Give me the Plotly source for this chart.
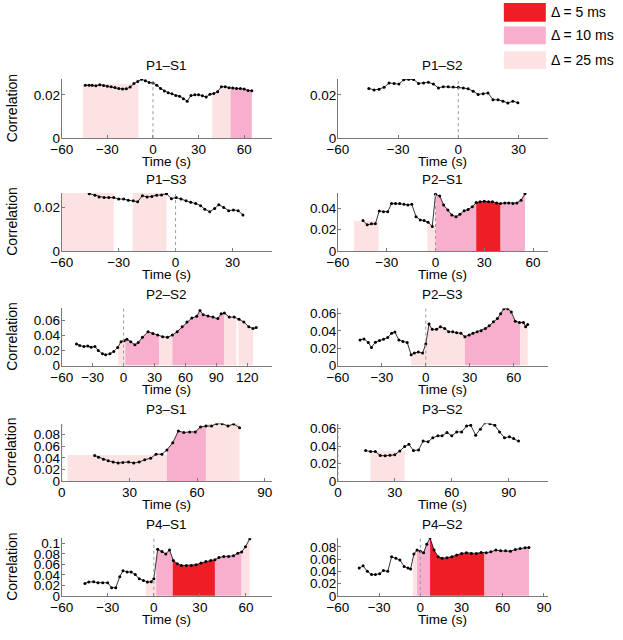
import plotly.graph_objects as go
import numpy as np

W, H = 623, 640
FONT = "Liberation Sans, Arial, Helvetica, sans-serif"

# ---------------- data ----------------
titles = ["P1\u2013S1", "P1\u2013S2", "P1\u2013S3", "P2\u2013S1", "P2\u2013S2",
          "P2\u2013S3", "P3\u2013S1", "P3\u2013S2", "P4\u2013S1", "P4\u2013S2"]

p1s1_t = [-44.5, -42, -40, -37.5, -35, -32.5, -30, -27.5, -25, -22.5, -20, -17.5, -15, -12.5,
          -10, -7.5, -5, -2.5, 0, 2.5, 5, 7.5, 10, 12.5, 15, 17.5, 20, 22.5, 25, 27.5, 30, 32.5,
          35, 37.5, 40, 42.5, 45, 47.5, 50, 52.5, 55, 57.5, 60, 62.5, 65]
p1s1_v = [0.0245, 0.0244, 0.0244, 0.0242, 0.0247, 0.0243, 0.0240, 0.0238, 0.0234, 0.0229,
          0.0227, 0.0228, 0.0236, 0.0252, 0.0262, 0.0272, 0.0265, 0.0257, 0.0255, 0.0245,
          0.0230, 0.0218, 0.0210, 0.0205, 0.0197, 0.0194, 0.0182, 0.0171, 0.0197, 0.0200,
          0.0201, 0.0196, 0.0190, 0.0203, 0.0206, 0.0215, 0.0238, 0.0238, 0.0233, 0.0232,
          0.0230, 0.0229, 0.0227, 0.0220, 0.0219]

p1s2_t = [-44.6, -42, -39.5, -37, -34.5, -32, -29.6, -27.2, -24.7, -22.3, -19.8, -17.3, -14.9,
          -12.4, -9.9, -7.5, -5, -2.5, 0, 2.5, 4.9, 7.4, 9.9, 12.4, 14.8, 17.3, 19.8, 22.3,
          24.7, 27.2, 29.7]
p1s2_v = [0.0230, 0.0223, 0.0226, 0.0235, 0.0255, 0.0253, 0.0250, 0.0270, 0.0272, 0.0271,
          0.0253, 0.0255, 0.0258, 0.0250, 0.0232, 0.0238, 0.0237, 0.0236, 0.0235, 0.0232,
          0.0228, 0.0217, 0.0202, 0.0205, 0.0209, 0.0178, 0.0177, 0.0171, 0.0162, 0.0171,
          0.0164]

p1s3_t = [-45.5, -42.5, -40.3, -37.7, -35.2, -32.6, -30, -27.4, -24.9, -22.3, -20, -17.5, -15,
          -12.5, -10, -7.4, -4.8, -2.2, 0.3, 2.9, 5.5, 8, 10.6, 13.2, 15.4, 18, 20.6, 22.8,
          25.4, 28, 30.5, 33, 35.5]
p1s3_v = [0.0263, 0.0256, 0.0248, 0.0245, 0.0245, 0.0245, 0.0238, 0.0238, 0.0233, 0.0230,
          0.0226, 0.0253, 0.0248, 0.0250, 0.0256, 0.0257, 0.0263, 0.0240, 0.0245, 0.0238,
          0.0230, 0.0223, 0.0218, 0.0208, 0.0192, 0.0180, 0.0195, 0.0212, 0.0200, 0.0185,
          0.0188, 0.0185, 0.0165]

p2s1_t = [-44.6, -42, -39.4, -37, -34.6, -32, -29.4, -27, -24.6, -22, -19.4, -17, -14.6, -12,
          -9.4, -7, -4.6, -2, 0, 2.6, 5, 7.6, 10, 12.6, 15, 17.6, 20, 22.6, 25, 27.4, 30, 32.6,
          35, 37.6, 40, 42.6, 45, 47.6, 50, 52.6, 55]
p2s1_v = [0.0286, 0.0246, 0.0255, 0.0255, 0.0375, 0.0369, 0.0369, 0.0446, 0.0446, 0.0446,
          0.0440, 0.0431, 0.0440, 0.0323, 0.0292, 0.0286, 0.0271, 0.0231, 0.0532, 0.0517,
          0.0431, 0.0385, 0.0338, 0.0323, 0.0345, 0.0378, 0.0390, 0.0415, 0.0455, 0.0462,
          0.0468, 0.0462, 0.0462, 0.0452, 0.0446, 0.0452, 0.0452, 0.0446, 0.0452, 0.0477,
          0.0538]

p2s2_t = [-45.7, -42.6, -38.5, -34.7, -31.5, -27.8, -24.6, -20.5, -17.4, -13.2, -9.5, -5.7,
          -2.5, 0.6, 3.2, 6.9, 11, 14.2, 18.3, 23.7, 28.4, 33.1, 37.9, 42.6, 47.3, 52, 56.8,
          61.5, 66.2, 71, 74.1, 77.3, 82, 86.8, 91.5, 94.7, 97.8, 102.5, 107.3, 112, 116.7,
          121.5, 125.6, 128.7]
p2s2_v = [0.0287, 0.0265, 0.0252, 0.0260, 0.0243, 0.0252, 0.0200, 0.0157, 0.0143, 0.0157,
          0.0187, 0.0239, 0.0317, 0.0330, 0.0348, 0.0317, 0.0274, 0.0304, 0.0374, 0.0448,
          0.0426, 0.0404, 0.0383, 0.0374, 0.0404, 0.0448, 0.0513, 0.0578, 0.0630, 0.0652,
          0.0730, 0.0674, 0.0657, 0.0643, 0.0622, 0.0687, 0.0696, 0.0643, 0.0643, 0.0613,
          0.0578, 0.0513, 0.0491, 0.0504]

p2s3_t = [-44.9, -42.2, -39.3, -37.1, -34.4, -31.6, -28.9, -26, -23.3, -21.1, -18.4, -15.6,
          -12.7, -10, -7.8, -5.1, -2.2, 0, 2.2, 4.4, 7.3, 10, 12.9, 15.6, 18.4, 21.1, 24, 26.7,
          29.6, 32.2, 35.1, 37.8, 40.7, 43.3, 46.2, 48.9, 51.1, 53.3, 56, 58.4, 61.1, 64,
          66.7, 68.2, 69.6]
p2s3_v = [0.0296, 0.0308, 0.0266, 0.0209, 0.0270, 0.0289, 0.0304, 0.0323, 0.0372, 0.0387,
          0.0296, 0.0277, 0.0266, 0.0125, 0.0144, 0.0156, 0.0144, 0.0250, 0.0479, 0.0418,
          0.0418, 0.0448, 0.0429, 0.0391, 0.0391, 0.0380, 0.0372, 0.0334, 0.0353, 0.0372,
          0.0391, 0.0403, 0.0429, 0.0460, 0.0505, 0.0543, 0.0600, 0.0657, 0.0657, 0.0619,
          0.0513, 0.0498, 0.0498, 0.0448, 0.0475]

p3s1_t = [14.6, 16.3, 18.5, 20.6, 22.8, 25, 27.1, 29.6, 31.9, 34.3, 36.8, 39.4, 41.8, 44.4,
          46.6, 49.2, 51.7, 54.1, 56.7, 59.2, 61.5, 63.9, 66.4, 68.7, 71.1, 73.7, 76.2, 78.8]
p3s1_v = [0.0440, 0.0411, 0.0377, 0.0349, 0.0327, 0.0310, 0.0321, 0.0327, 0.0310, 0.0327,
          0.0366, 0.0394, 0.0462, 0.0462, 0.0535, 0.0659, 0.0862, 0.0834, 0.0845, 0.0845,
          0.0930, 0.0946, 0.0946, 0.0986, 0.0986, 0.0946, 0.0980, 0.0918]

p3s2_t = [14.6, 17.2, 19.7, 22.3, 24.9, 27.4, 30, 32.6, 35.2, 37.4, 39.8, 42.5, 44.9, 47.5,
          50, 52.7, 54.9, 57.5, 60, 62.6, 65.2, 67.8, 70, 72.6, 75.1, 77.5, 80.1, 82.7, 85.2,
          87.8, 90.4, 92.6, 95.2]
p3s2_v = [0.0349, 0.0337, 0.0337, 0.0292, 0.0289, 0.0296, 0.0300, 0.0345, 0.0394, 0.0420,
          0.0349, 0.0356, 0.0457, 0.0450, 0.0495, 0.0517, 0.0517, 0.0555, 0.0517, 0.0562,
          0.0562, 0.0630, 0.0637, 0.0525, 0.0592, 0.0664, 0.0656, 0.0637, 0.0562, 0.0495,
          0.0506, 0.0487, 0.0457]

p4s1_t = [-44.9, -42.4, -39.2, -36.4, -33.3, -30.1, -27.5, -24.8, -22.2, -20.1, -17.4, -14.8,
          -12.1, -9.5, -6.8, -4.2, -1.7, 0, 2.5, 5.3, 7.8, 10.2, 12.7, 15.3, 18, 21.2, 24.4,
          27.5, 30.7, 33.9, 37.1, 39.8, 42.4, 45.6, 48.7, 51.9, 54.7, 57.2, 59.7, 62.5]
p4s1_v = [0.0238, 0.0263, 0.0269, 0.0250, 0.0250, 0.0250, 0.0156, 0.0156, 0.0363, 0.0481,
          0.0456, 0.0456, 0.0406, 0.0325, 0.0294, 0.0263, 0.0269, 0.0325, 0.0888, 0.0844,
          0.0800, 0.0875, 0.0675, 0.0613, 0.0581, 0.0581, 0.0581, 0.0594, 0.0625, 0.0656,
          0.0675, 0.0688, 0.0731, 0.0750, 0.0750, 0.0763, 0.0813, 0.0838, 0.0938, 0.1090]

p4s2_t = [-44.5, -41.7, -38.6, -35.5, -32.7, -29.6, -26.8, -23.7, -20.9, -17.8, -14.9, -11.8,
          -9, -7.1, -4.7, -2.4, 0, 2.4, 4.7, 7.1, 10, 13, 15.9, 19.4, 23, 26.5, 30.1, 33.6,
          37.2, 40.8, 44.3, 48, 51.4, 55, 58.5, 62.1, 65.6, 69.2, 72.7, 76.3, 79.1]
p4s2_v = [0.0453, 0.0490, 0.0400, 0.0347, 0.0347, 0.0363, 0.0416, 0.0400, 0.0640, 0.0613,
          0.0587, 0.0480, 0.0453, 0.0437, 0.0683, 0.0747, 0.0730, 0.0704, 0.0843, 0.0944,
          0.0747, 0.0640, 0.0613, 0.0624, 0.0640, 0.0667, 0.0693, 0.0704, 0.0693, 0.0693,
          0.0709, 0.0704, 0.0720, 0.0747, 0.0736, 0.0736, 0.0730, 0.0757, 0.0773, 0.0784,
          0.0789]

# significance windows: (start s, end s, delta ms, flat top or None = follow curve)
p1s1_win = [(-46, -9.6, 25, 0.0250), (39, 51, 25, None), (51, 65, 10, None)]
p1s2_win = []
p1s3_win = [(-60, -32.6, 25, 0.0266), (-22.6, -4.8, 25, 0.0266)]
p2s1_win = [(-50, -35, 25, 0.0283), (-5, 0, 25, 0.0250), (0, 25, 10, None),
            (25, 40, 5, None), (40, 55, 10, None)]
p2s2_win = [(-5.4, 1.6, 25, None), (1.6, 34.7, 10, None), (34.7, 47.3, 25, None),
            (47.3, 97.8, 10, None), (97.8, 109.5, 25, None), (111.4, 125.6, 25, None)]
p2s3_win = [(-10, 26.7, 25, None), (26.7, 64.4, 10, None), (64.4, 69.6, 25, None)]
p3s1_win = [(2.6, 46.6, 25, 0.0450), (46.6, 63.9, 10, None), (63.9, 78.8, 25, 0.0985)]
p3s2_win = [(17.1, 35.2, 25, 0.0340)]
p4s1_win = [(-5.3, 1.5, 25, 0.0300), (1.5, 12.3, 10, None), (12.3, 39.8, 5, None),
            (39.8, 57.2, 10, None), (57.2, 62.5, 25, None)]
p4s2_win = [(-5.5, -2.4, 25, None), (-2.4, 7.1, 10, None), (7.1, 46.7, 5, None),
            (46.7, 79.1, 10, None)]

x_ranges = [(-60, 78), (-60, 44.6), (-60, 50.6), (-60, 69), (-60, 143.6),
            (-60, 83.3), (0, 93), (0, 110.6), (-60, 76.7), (-60, 92.8)]
y_tops = [0.0273, 0.0273, 0.0266, 0.0545, 0.0757, 0.0660, 0.0989, 0.0658, 0.1097, 0.0940]

delta_levels = [5, 10, 25]
delta_labels = ["\u0394 = 5 ms", "\u0394 = 10 ms", "\u0394 = 25 ms"]
delta_colors = {5: "#EE1D26", 10: "#F8AFCE", 25: "#FDE2E3"}

panels = [
    (p1s1_t, p1s1_v, p1s1_win), (p1s2_t, p1s2_v, p1s2_win),
    (p1s3_t, p1s3_v, p1s3_win), (p2s1_t, p2s1_v, p2s1_win),
    (p2s2_t, p2s2_v, p2s2_win), (p2s3_t, p2s3_v, p2s3_win),
    (p3s1_t, p3s1_v, p3s1_win), (p3s2_t, p3s2_v, p3s2_win),
    (p4s1_t, p4s1_v, p4s1_win), (p4s2_t, p4s2_v, p4s2_win),
]

# ---------------- layout geometry (pixels) ----------------
cols_px = [(52, 267), (335, 550)]
rows_px = [(78.3, 138.3), (194, 253), (311.3, 369.3), (428.2, 486.7), (544.8, 603.3)]

def px_x(p):
    return p / W

def px_y(p):
    return 1 - p / H

fig = go.Figure()
layout = dict(width=W, height=H, margin=dict(l=0, r=0, t=0, b=0),
              plot_bgcolor="white", paper_bgcolor="white", showlegend=False,
              font=dict(family=FONT, size=13.5, color="black"))
annotations = []
shapes = []
AXC = "#7a7a7a"
TF = dict(family=FONT, size=13.5, color="black")

for i, (t, v, wins) in enumerate(panels):
    r, c = divmod(i, 2)
    xa = "x" if i == 0 else f"x{i+1}"
    ya = "y" if i == 0 else f"y{i+1}"
    xkey = "xaxis" if i == 0 else f"xaxis{i+1}"
    ykey = "yaxis" if i == 0 else f"yaxis{i+1}"
    x0p, x1p = cols_px[c]
    y0p, y1p = rows_px[r]
    ta = np.array(t, dtype=float)
    va = np.array(v, dtype=float)

    # shaded windows
    for (s0, s1, d, top) in wins:
        if top is None:
            inner = ta[(ta > s0) & (ta < s1)]
            xs = [s0] + list(inner) + [s1]
            ys = list(np.interp(xs, ta, va))
        else:
            xs = [s0, s1]
            ys = [top, top]
        px = xs + [s1, s0, s0]
        py = ys + [0, 0, ys[0]]
        fig.add_trace(go.Scatter(x=px, y=py, xaxis=xa, yaxis=ya, mode="lines",
                                 fill="toself", fillcolor=delta_colors[d],
                                 line=dict(width=0, color=delta_colors[d]),
                                 hoverinfo="skip"))
    # zero line
    shapes.append(dict(type="line", xref=xa, yref=ya, x0=0, x1=0, y0=0, y1=y_tops[i],
                       line=dict(color="#9a9a9a", width=1, dash="dot"), layer="above"))
    # data
    fig.add_trace(go.Scatter(x=t, y=v, xaxis=xa, yaxis=ya, mode="lines+markers",
                             line=dict(color="black", width=0.8),
                             marker=dict(color="black", size=3)))

    layout[xkey] = dict(domain=[px_x(x0p), px_x(x1p)], anchor=ya,
                        range=list(x_ranges[i]), dtick=30, tick0=0,
                        showline=True, linecolor=AXC, linewidth=1,
                        ticks="inside", ticklen=3, tickcolor=AXC,
                        showgrid=False, zeroline=False, tickfont=TF,
                        ticklabelstandoff=-1)
    layout[ykey] = dict(domain=[px_y(y1p), px_y(y0p)], anchor=xa,
                        range=[0, y_tops[i]], dtick=0.02, tick0=0,
                        showline=True, linecolor=AXC, linewidth=1,
                        ticks="inside", ticklen=3, tickcolor=AXC,
                        showgrid=False, zeroline=False, tickfont=TF,
                        ticklabelstandoff=-2)

    cx = (x0p + x1p) / 2
    annotations.append(dict(text=titles[i], x=px_x(cx), y=px_y(y0p - 14), xref="paper",
                            yref="paper", showarrow=False, xanchor="center", yanchor="middle",
                            font=TF))
    annotations.append(dict(text="Time (s)", x=px_x(cx), y=px_y(y1p + 24), xref="paper",
                            yref="paper", showarrow=False, xanchor="center", yanchor="middle",
                            font=TF))
    if c == 0:
        annotations.append(dict(text="Correlation", x=px_x(10), y=px_y((y0p + y1p) / 2),
                                xref="paper", yref="paper", showarrow=False, textangle=-90,
                                xanchor="center", yanchor="middle", xshift=-9,
                                font=dict(family=FONT, size=14, color="black")))

# legend boxes
leg_y = [(1, 20), (25, 43), (50, 68)]
for (d, lab), (ly0, ly1) in zip(zip(delta_levels, delta_labels), leg_y):
    shapes.append(dict(type="rect", xref="paper", yref="paper", x0=px_x(505), x1=px_x(548),
                       y0=px_y(ly1), y1=px_y(ly0), fillcolor=delta_colors[d],
                       line=dict(width=0)))
    annotations.append(dict(text=lab, x=px_x(551), y=px_y((ly0 + ly1) / 2), xref="paper",
                            yref="paper", showarrow=False, xanchor="left", yanchor="middle",
                            font=dict(family=FONT, size=14, color="black")))

layout["annotations"] = annotations
layout["shapes"] = shapes
fig.update_layout(**layout)
fig.write_html("out.html", config={"displayModeBar": False},
               post_script="document.body.style.margin='0px';"
                           "document.body.style.overflow='hidden';")
